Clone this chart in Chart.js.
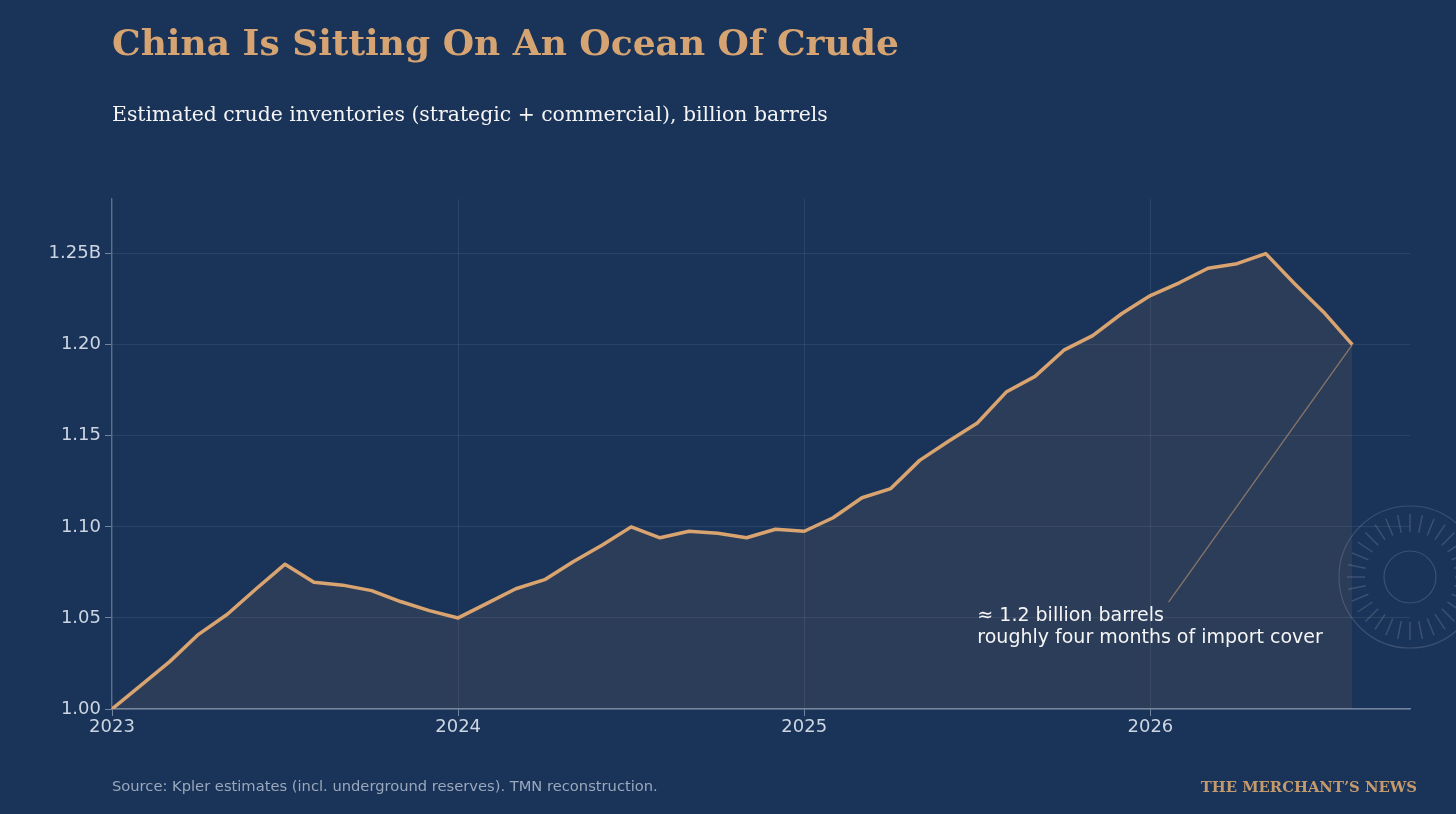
<!DOCTYPE html>
<html>
<head>
<meta charset="utf-8">
<script src="https://cdn.jsdelivr.net/npm/chart.js@4"></script>
<style>
  html, body { margin: 0; padding: 0; background: #1a3358; }
  #wrap { position: relative; width: 1456px; height: 814px; overflow: hidden; }
  #chart { position: absolute; left: 0; top: 0; }
  .title { position: absolute; left: 112px; top: 21px; font: bold 36px "DejaVu Serif", serif; color: #d6a472; white-space: nowrap; }
  .subtitle { position: absolute; left: 112px; top: 102px; font: 20.4px "DejaVu Serif", serif; color: #f4f4f4; white-space: nowrap; }
  .source { position: absolute; left: 112px; top: 777px; font: 14.7px "DejaVu Sans", sans-serif; color: #9aa8bd; white-space: nowrap; }
  .brand { position: absolute; right: 39px; top: 778px; font: bold 14.8px "DejaVu Serif", serif; color: #c49a6c; white-space: nowrap; }
</style>
</head>
<body>
<div id="wrap">
  <canvas id="chart" width="1456" height="814"></canvas>
  <div class="title">China Is Sitting On An Ocean Of Crude</div>
  <div class="subtitle">Estimated crude inventories (strategic + commercial), billion barrels</div>
  <div class="source">Source: Kpler estimates (incl. underground reserves). TMN reconstruction.</div>
  <div class="brand">THE MERCHANT’S NEWS</div>
</div>
<script>
// months since Jan 2023
const months = [0,1,2,3,4,5,6,7,8,9,10,11,12,13,14,15,16,17,18,19,20,21,
  22,23,24,25,26,27,28,29,30,31,32,33,34,35,36,37,38,39,40,41,42,43];
// billion barrels
const inventories = [1.000,1.013,1.026,1.041,1.052,1.066,1.0795,1.0696,1.068,1.065,1.059,1.054,
  1.050,1.058,1.066,1.071,1.081,1.090,1.100,1.094,1.0976,1.0965,1.094,1.0987,
  1.0976,1.105,1.116,1.121,1.1365,1.147,1.157,1.174,1.1826,1.197,1.205,1.217,
  1.227,1.234,1.242,1.2445,1.250,1.2335,1.218,1.200];
const yearTicks = [0, 12, 24, 36];
const yearLabels = ['2023', '2024', '2025', '2026'];
const noteLines = ['≈ 1.2 billion barrels', 'roughly four months of import cover'];

const points = months.map((m, i) => ({x: m, y: inventories[i]}));

// leader line + annotation text
const annotationPlugin = {
  id: 'note',
  afterDatasetsDraw(chart) {
    const {ctx, scales: {x, y}} = chart;
    const last = points[points.length - 1];
    ctx.save();
    ctx.strokeStyle = 'rgba(214,164,114,0.55)';
    ctx.lineWidth = 1.3;
    ctx.beginPath();
    ctx.moveTo(x.getPixelForValue(36.63), y.getPixelForValue(1.0587));
    ctx.lineTo(x.getPixelForValue(last.x), y.getPixelForValue(last.y));
    ctx.stroke();
    ctx.fillStyle = '#f6f6f6';
    ctx.font = '19px "DejaVu Sans", sans-serif';
    ctx.textBaseline = 'middle';
    const tx = x.getPixelForValue(30);
    const ty = y.getPixelForValue(1.051);
    noteLines.forEach((t, i) => ctx.fillText(t, tx, ty + i * 22));
    ctx.restore();
  }
};

// faint compass emblem at the right edge
const emblemPlugin = {
  id: 'emblem',
  afterDraw(chart) {
    const ctx = chart.ctx;
    const cx = 1410, cy = 577;
    ctx.save();
    ctx.strokeStyle = 'rgba(140,150,170,0.3)';
    ctx.lineWidth = 1.2;
    ctx.beginPath(); ctx.arc(cx, cy, 71, 0, Math.PI * 2); ctx.stroke();
    ctx.beginPath(); ctx.arc(cx, cy, 26, 0, Math.PI * 2); ctx.stroke();
    ctx.lineWidth = 1.5;
    for (let i = 0; i < 32; i++) {
      const a = i * Math.PI / 16;
      const r1 = 45, r2 = 63;
      ctx.beginPath();
      ctx.moveTo(cx + r1 * Math.cos(a), cy + r1 * Math.sin(a));
      ctx.lineTo(cx + r2 * Math.cos(a), cy + r2 * Math.sin(a));
      ctx.stroke();
    }
    ctx.restore();
  }
};

new Chart(document.getElementById('chart'), {
  type: 'line',
  data: {
    datasets: [{
      data: points,
      borderColor: '#d9a470',
      borderWidth: 3.5,
      backgroundColor: 'rgba(190,150,110,0.11)',
      fill: 'start',
      pointRadius: 0,
      tension: 0,
      borderJoinStyle: 'round'
    }]
  },
  options: {
    responsive: false,
    animation: false,
    layout: { padding: { left: 40, right: 46, top: 199, bottom: 75 } },
    plugins: { legend: { display: false }, tooltip: { enabled: false } },
    scales: {
      x: {
        type: 'linear',
        min: 0,
        max: 45,
        afterBuildTicks: s => { s.ticks = yearTicks.map(v => ({value: v})); },
        afterFit: s => { s.height = 30; },
        ticks: {
          color: '#ccd5e2',
          font: { family: 'DejaVu Sans', size: 18 },
          padding: 1,
          maxRotation: 0,
          callback: v => yearLabels[yearTicks.indexOf(v)]
        },
        grid: { color: 'rgba(255,255,255,0.08)', tickColor: 'rgba(190,200,215,0.55)', tickLength: 7 },
        border: { color: 'rgba(170,185,205,0.6)', width: 1.5 }
      },
      y: {
        min: 1.0,
        max: 1.28,
        afterFit: s => { s.width = 72; },
        ticks: {
          stepSize: 0.05,
          includeBounds: false,
          color: '#ccd5e2',
          font: { family: 'DejaVu Sans', size: 18 },
          padding: 4,
          callback: v => Math.abs(v - 1.25) < 1e-6 ? '1.25B' : v.toFixed(2)
        },
        grid: { color: 'rgba(255,255,255,0.08)', tickColor: 'rgba(190,200,215,0.55)', tickLength: 7 },
        border: { color: 'rgba(170,185,205,0.45)', width: 1.2 }
      }
    }
  },
  plugins: [annotationPlugin, emblemPlugin]
});
</script>
</body>
</html>
